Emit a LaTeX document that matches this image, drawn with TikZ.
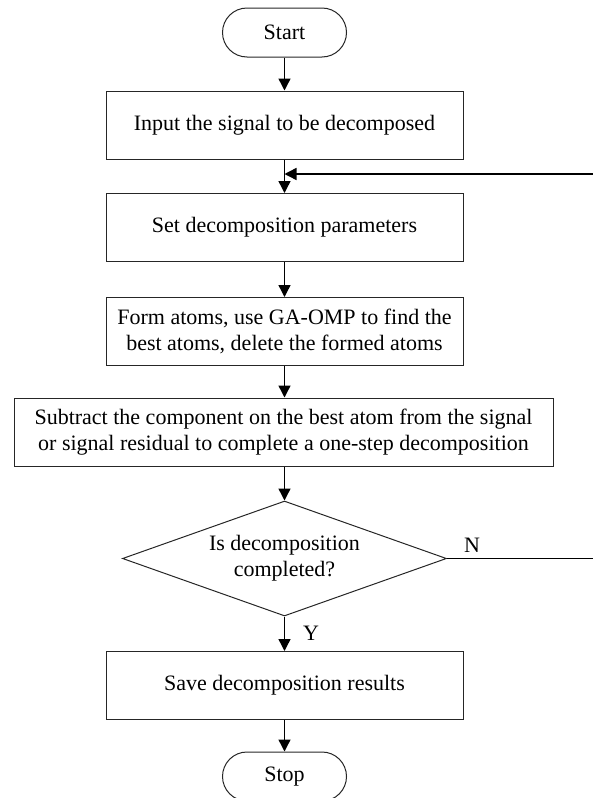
\documentclass[tikz,border=0pt]{standalone}
\usepackage{fontspec}
\setmainfont{Liberation Serif}
\usetikzlibrary{shapes.geometric,arrows.meta}
\tikzset{
  base/.style={draw=black!85,line width=1pt,inner sep=0pt,align=center,font=\fontsize{22}{26}\selectfont},
  procbox/.style={base,rectangle,minimum width=357pt,minimum height=68pt},
  termbox/.style={base,rectangle,rounded corners=24.5pt,minimum width=124pt,minimum height=49pt},
  decbox/.style={base,diamond,shape aspect=2.82,minimum width=324pt,minimum height=115pt},
  flow/.style={draw=black,line width=1.4pt,-{Triangle[length=12pt,width=12pt]}},
  lbl/.style={font=\fontsize{22}{26}\selectfont,inner sep=0pt}
}
\begin{document}
\begin{tikzpicture}[x=1pt,y=-1pt]
\useasboundingbox (0,0) rectangle (592,798);
\node[termbox] (start) at (284.5,32.5) {Start};
\node[procbox] (input) at (284.5,125) {Input the signal to be decomposed};
\node[procbox] (set) at (284.5,227.5) {Set decomposition parameters};
\node[procbox] (form) at (284.5,331.5) {Form atoms, use GA-OMP to find the\\best atoms, delete the formed atoms};
\node[procbox,minimum width=539pt] (sub) at (283.5,432) {Subtract the component on the best atom from the signal\\or signal residual to complete a one-step decomposition};
\node[decbox] (dec) at (284.5,558.5) {Is decomposition\\completed?};
\node[procbox] (save) at (284.5,685.5) {Save decomposition results};
\node[termbox] (stop) at (284.5,776.5) {Stop};
\coordinate (fbin) at (284.5,174);
\coordinate (rt) at (597,174);
\node[lbl] (nl) at (472,545) {N};
\node[lbl] (yl) at (311,633) {Y};
\draw[flow] (start) -- (input);
\draw[flow] (input) -- (set);
\draw[flow] (set) -- (form);
\draw[flow] (form.south) -- (form.south |- sub.north);
\draw[flow] (form.south |- sub.south) -- (dec.north);
\draw[flow] (dec) -- (save);
\draw[flow] (save) -- (stop);
\draw[flow] (dec.east) -- (dec.east -| rt) -- (rt) -- (fbin);
\end{tikzpicture}
\end{document}
